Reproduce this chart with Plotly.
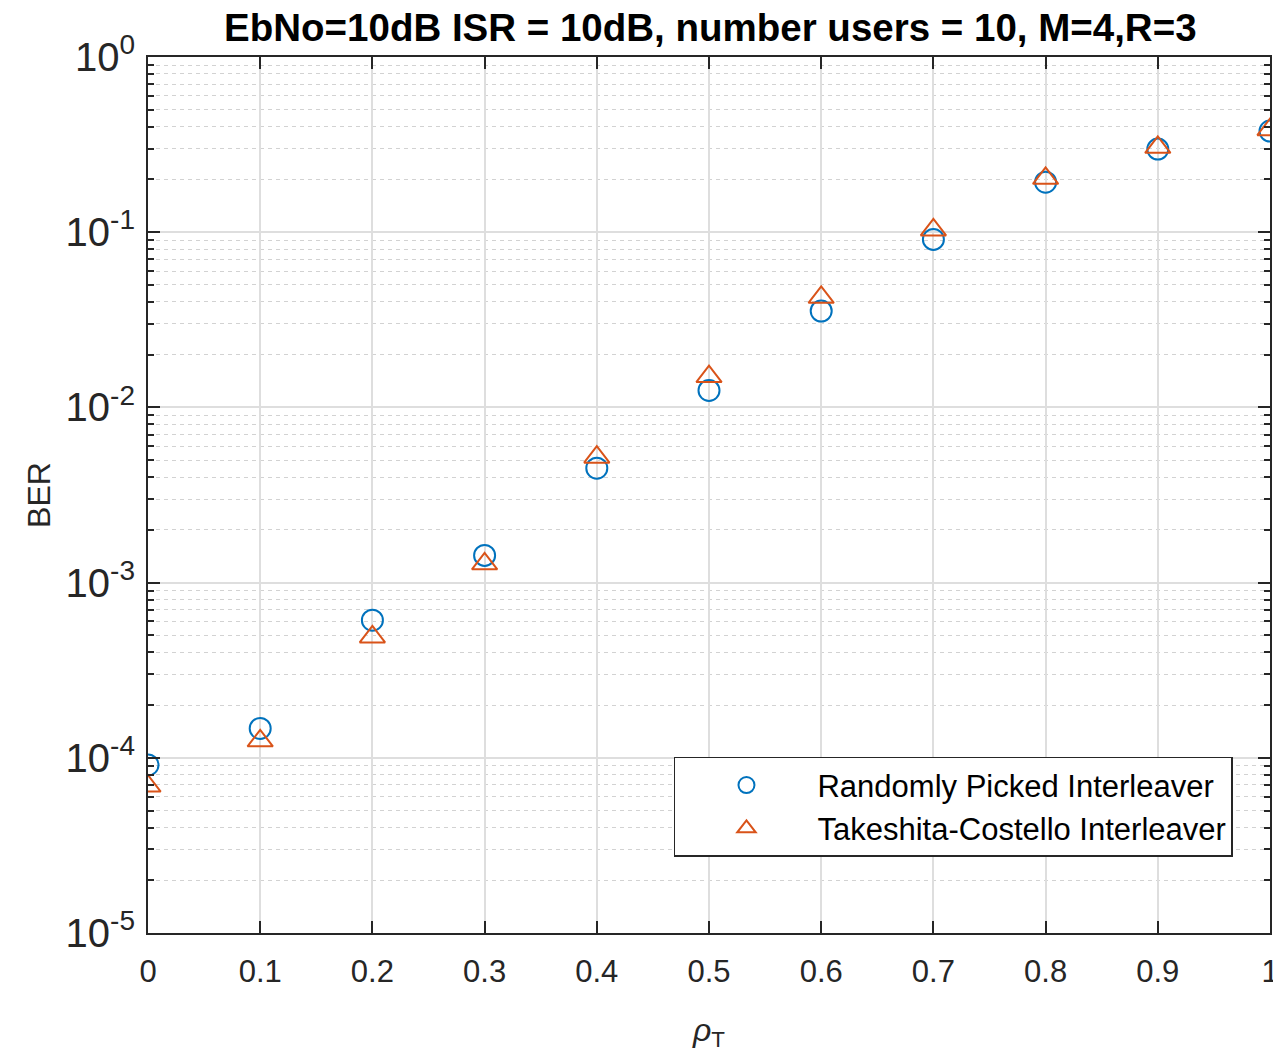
import plotly.graph_objects as go

rho = [0.0, 0.1, 0.2, 0.3, 0.4, 0.5, 0.6, 0.7, 0.8, 0.9, 1.0]
ber_random = [9.1e-5, 1.47e-4, 6.1e-4, 1.43e-3, 4.5e-3, 0.0125, 0.0355, 0.091, 0.193, 0.298, 0.378]
ber_tc = [6.9e-5, 1.25e-4, 4.9e-4, 1.28e-3, 5.2e-3, 0.0150, 0.0425, 0.103, 0.203, 0.305, 0.385]

x_ticks = [0, 0.1, 0.2, 0.3, 0.4, 0.5, 0.6, 0.7, 0.8, 0.9, 1]
x_ticktext = ["0", "0.1", "0.2", "0.3", "0.4", "0.5", "0.6", "0.7", "0.8", "0.9", "1"]
y_ticks = [1e-5, 1e-4, 1e-3, 1e-2, 1e-1, 1]
y_ticktext = ["10<sup>-5</sup>", "10<sup>-4</sup>", "10<sup>-3</sup>", "10<sup>-2</sup>", "10<sup>-1</sup>", "10<sup>0</sup>"]
y_minor = [m * 10.0 ** e for e in range(-5, 0) for m in range(2, 10)]

blue = "#0072BD"
orange = "#D95319"
font = "Liberation Sans, Arial, sans-serif"
axis_col = "#262626"

fig = go.Figure()
fig.add_trace(go.Scatter(x=rho, y=ber_random, mode="markers", name="Randomly Picked Interleaver",
                         marker=dict(symbol="circle-open", size=21, color=blue, line=dict(width=2, color=blue)),
                         cliponaxis=True))
fig.add_trace(go.Scatter(x=rho, y=ber_tc, mode="markers", name="Takeshita-Costello Interleaver",
                         marker=dict(symbol="triangle-up-open", size=22, color=orange, line=dict(width=2, color=orange)),
                         cliponaxis=True))

fig.update_layout(
    width=1273, height=1054,
    margin=dict(l=148, r=3, t=57, b=121, autoexpand=False),
    paper_bgcolor="white", plot_bgcolor="white",
    font=dict(family=font, size=30, color=axis_col),
    title=dict(text="<b>EbNo=10dB ISR = 10dB, number users = 10, M=4,R=3</b>",
               x=0.558, xanchor="center", y=0.974, yanchor="middle",
               font=dict(size=38.5, color="black", family=font)),
    showlegend=True,
    legend=dict(x=0.967, xanchor="right", y=0.201, yanchor="top",
                bgcolor="white", bordercolor=axis_col, borderwidth=1.5,
                font=dict(size=31, color="black", family=font),
                itemwidth=132, tracegroupgap=0),
)
fig.update_xaxes(
    range=[0, 1], tickvals=x_ticks, ticktext=x_ticktext, automargin=False,
    tickfont=dict(size=31, color=axis_col), ticklabelstandoff=10, ticklabeloverflow="allow",
    showline=True, linecolor=axis_col, linewidth=2, mirror="ticks",
    ticks="inside", ticklen=12, tickcolor=axis_col, tickwidth=2,
    showgrid=True, gridcolor="#dedede", gridwidth=1.5, zeroline=False,
    title=dict(text="<i>ρ</i><sub>T</sub>", font=dict(size=32, color=axis_col), standoff=30),
)
fig.update_yaxes(
    type="log", range=[-5, 0], tickvals=y_ticks, ticktext=y_ticktext, automargin=False,
    tickfont=dict(size=40, color=axis_col), ticklabelstandoff=3,
    showline=True, linecolor=axis_col, linewidth=2, mirror="ticks",
    ticks="inside", ticklen=12, tickcolor=axis_col, tickwidth=2,
    showgrid=True, gridcolor="#dedede", gridwidth=1.5, zeroline=False,
    minor=dict(tickvals=y_minor, ticks="inside", ticklen=6, tickcolor=axis_col, tickwidth=1.5,
               showgrid=True, gridcolor="#d2d2d2", griddash="4px,4px", gridwidth=1.2),
    title=dict(text="BER", font=dict(size=32, color=axis_col), standoff=5),
)

fig.write_html("out.html",
               config={"displayModeBar": False},
               post_script="document.body.style.margin='0';document.body.style.overflow='hidden';")
